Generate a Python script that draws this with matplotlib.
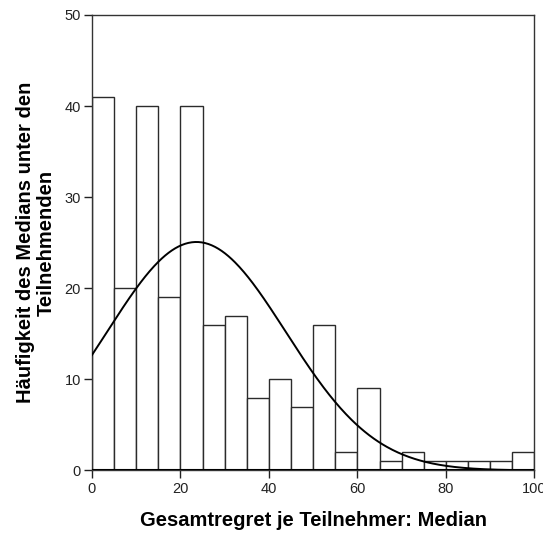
import numpy as np
import matplotlib.pyplot as plt

plt.rcParams['font.family'] = ['Liberation Sans', 'DejaVu Sans']

# histogram of per-participant median regret, bin width 5
bin_edges = [0, 5, 10, 15, 20, 25, 30, 35, 40, 45, 50, 55, 60, 65, 70, 75, 80, 85, 90, 95, 100]
counts = [41, 20, 40, 19, 40, 16, 17, 8, 10, 7, 16, 2, 9, 1, 2, 1, 1, 1, 1, 2]
mean_val = 23.6
sd_val = 20.2
x_ticks = [0, 20, 40, 60, 80, 100]
y_ticks = [0, 10, 20, 30, 40, 50]

fig = plt.figure(figsize=(5.43, 5.35), dpi=100)
ax = fig.add_axes([0.1694, 0.1206, 0.8149, 0.8514])

left = bin_edges[:-1]
widths = np.diff(bin_edges)
ax.bar(left, counts, width=widths, align='edge', facecolor='white',
       edgecolor='#2b2b2b', linewidth=1.0, zorder=2)

# fitted normal curve scaled to counts
n = sum(counts)
xs = np.linspace(0, 100, 400)
ys = n * 5 / (sd_val * np.sqrt(2 * np.pi)) * np.exp(-(xs - mean_val) ** 2 / (2 * sd_val ** 2))
ax.plot(xs, ys, color='black', linewidth=1.4, zorder=3)

ax.set_xlim(0, 100)
ax.set_ylim(0, 50)
ax.set_xticks(x_ticks)
ax.set_yticks(y_ticks)
ax.tick_params(direction='out', length=6, width=1, labelsize=10.5, colors='#222222', pad=2)
for s in ax.spines.values():
    s.set_color('#333333')
    s.set_linewidth(1.0)
ax.axhline(0, color='black', linewidth=1.5, zorder=4)

ax.set_xlabel('Gesamtregret je Teilnehmer: Median', fontsize=14.5, fontweight='bold')
ax.set_ylabel('Häufigkeit des Medians unter den\nTeilnehmenden', fontsize=14.5,
              fontweight='bold', linespacing=1.15)
ax.xaxis.set_label_coords(0.5, -0.089)
ax.yaxis.set_label_coords(-0.081, 0.5)

fig.savefig('out.png', dpi=100)
